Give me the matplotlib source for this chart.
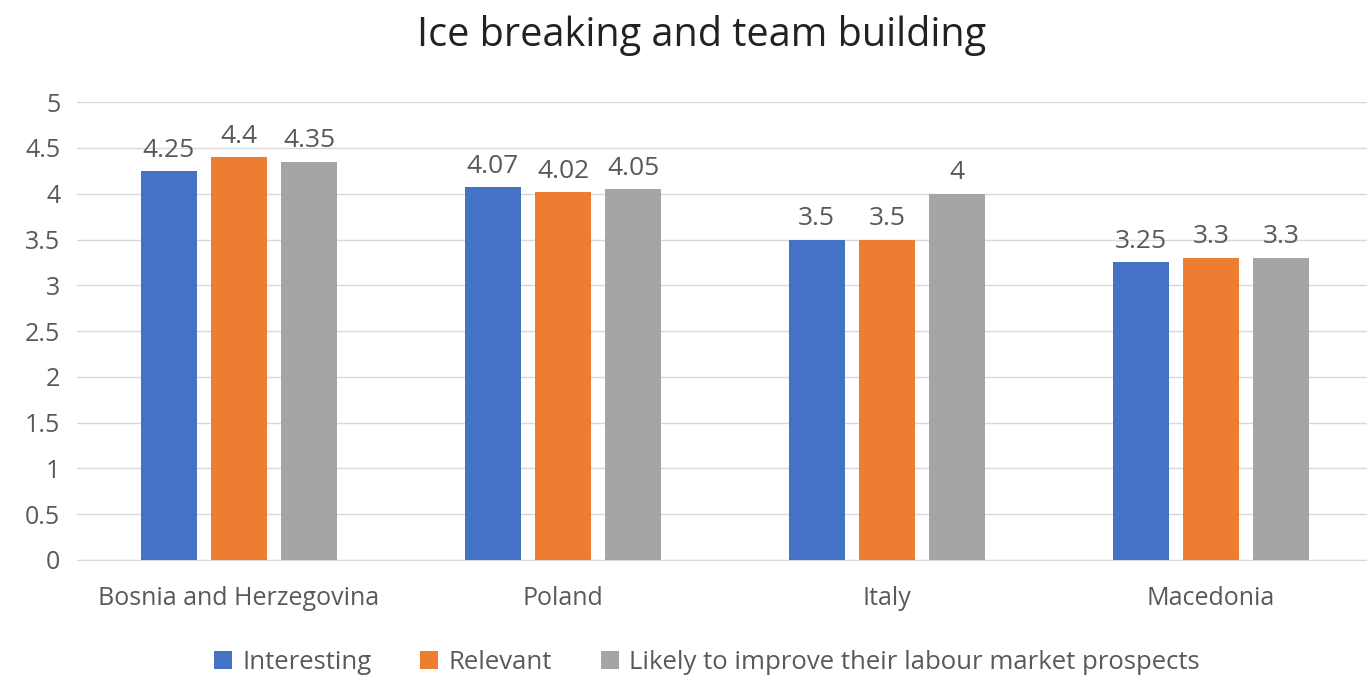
import matplotlib
matplotlib.use('Agg')
import matplotlib.pyplot as plt
import numpy as np

plt.rcParams['font.family'] = ['Open Sans', 'DejaVu Sans']

countries = ['Bosnia and Herzegovina', 'Poland', 'Italy', 'Macedonia']
series = ['Interesting', 'Relevant', 'Likely to improve their labour market prospects']
interesting = [4.25, 4.07, 3.5, 3.25]
relevant = [4.4, 4.02, 3.5, 3.3]
likely = [4.35, 4.05, 4.0, 3.3]
labels = [['4.25', '4.07', '3.5', '3.25'],
          ['4.4', '4.02', '3.5', '3.3'],
          ['4.35', '4.05', '4', '3.3']]
colors = ['#4472C4', '#ED7D31', '#A5A5A5']
text_col = '#595959'

fig = plt.figure(figsize=(13.67, 6.77), dpi=100)
ax = fig.add_axes([77 / 1367, 0.173, 1296 / 1367, 0.676])

x = np.arange(len(countries))
width = 0.173
step = 0.217
for i, (vals, col) in enumerate(zip([interesting, relevant, likely], colors)):
    bars = ax.bar(x + (i - 1) * step, vals, width, color=col, label=series[i], zorder=3)
    for b, lab in zip(bars, labels[i]):
        ax.annotate(lab, (b.get_x() + b.get_width() / 2, b.get_height()),
                    xytext=(0, 6), textcoords='offset points',
                    ha='center', va='bottom', fontsize=19, color=text_col)

ax.set_xlim(-0.5, 3.5)
ax.set_ylim(0, 5)
ax.set_yticks(np.arange(0, 5.01, 0.5))
ax.set_yticklabels(['0', '0.5', '1', '1.5', '2', '2.5', '3', '3.5', '4', '4.5', '5'])
ax.set_xticks(x)
ax.set_xticklabels(countries)
ax.tick_params(axis='both', length=0, labelsize=18, colors=text_col)
ax.tick_params(axis='x', pad=19)
ax.tick_params(axis='y', pad=12)
ax.grid(axis='y', color='#D9D9D9', linewidth=1, zorder=0)
for s in ['top', 'right', 'left']:
    ax.spines[s].set_visible(False)
ax.spines['bottom'].set_color('#D9D9D9')

fig.text(0.513, 0.948, 'Ice breaking and team building', ha='center', va='center',
         fontsize=28.5, color='#222222')
fig.legend(loc='center', bbox_to_anchor=(0.517, 0.022), ncol=3, frameon=False,
           fontsize=18.5, labelcolor=text_col, handlelength=0.7, handleheight=0.7,
           columnspacing=1.9, handletextpad=0.4)

fig.savefig('out.png', dpi=100)
